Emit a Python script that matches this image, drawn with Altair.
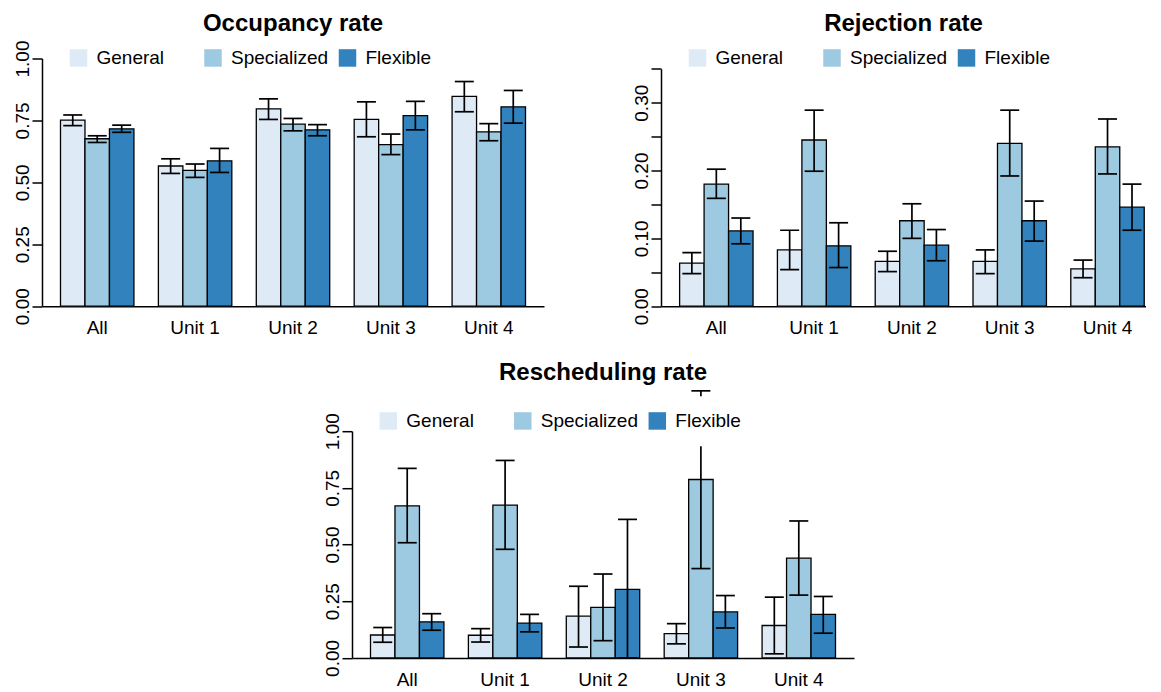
import altair as alt
import pandas as pd

units = ["All", "Unit 1", "Unit 2", "Unit 3", "Unit 4"]
types = ["General", "Specialized", "Flexible"]
colors = ["#deebf7", "#9ecae1", "#3182bd"]

# Occupancy rate
occ_general = [0.751, 0.566, 0.797, 0.754, 0.847]
occ_general_lo = [0.729, 0.536, 0.754, 0.684, 0.785]
occ_general_hi = [0.772, 0.595, 0.837, 0.825, 0.907]
occ_special = [0.676, 0.548, 0.735, 0.652, 0.704]
occ_special_lo = [0.661, 0.520, 0.708, 0.612, 0.668]
occ_special_hi = [0.688, 0.574, 0.758, 0.695, 0.737]
occ_flex = [0.716, 0.587, 0.712, 0.769, 0.805]
occ_flex_lo = [0.702, 0.540, 0.688, 0.712, 0.739]
occ_flex_hi = [0.731, 0.637, 0.733, 0.827, 0.871]

# Rejection rate
rej_general = [0.0635, 0.083, 0.066, 0.066, 0.055]
rej_general_lo = [0.048, 0.054, 0.051, 0.048, 0.042]
rej_general_hi = [0.079, 0.112, 0.081, 0.083, 0.068]
rej_special = [0.180, 0.245, 0.126, 0.240, 0.235]
rej_special_lo = [0.159, 0.199, 0.100, 0.192, 0.195]
rej_special_hi = [0.202, 0.289, 0.151, 0.289, 0.276]
rej_flex = [0.111, 0.089, 0.090, 0.126, 0.146]
rej_flex_lo = [0.092, 0.057, 0.067, 0.096, 0.112]
rej_flex_hi = [0.130, 0.123, 0.113, 0.155, 0.180]

# Rescheduling rate
res_general = [0.101, 0.100, 0.184, 0.107, 0.143]
res_general_lo = [0.069, 0.070, 0.048, 0.062, 0.018]
res_general_hi = [0.134, 0.129, 0.316, 0.151, 0.268]
res_special = [0.671, 0.674, 0.223, 0.787, 0.440]
res_special_lo = [0.508, 0.479, 0.076, 0.394, 0.277]
res_special_hi = [0.836, 0.871, 0.370, 1.178, 0.604]
res_flex = [0.159, 0.153, 0.302, 0.203, 0.192]
res_flex_lo = [0.122, 0.115, 0.0, 0.132, 0.109]
res_flex_hi = [0.195, 0.192, 0.611, 0.275, 0.271]

FONT = "Liberation Sans"


def make_frame(series):
    rows = []
    for t, (m, lo, hi) in zip(types, series):
        for u, a, b, c in zip(units, m, lo, hi):
            rows.append({"unit": u, "type": t, "mean": a, "lo": b, "hi": c})
    return pd.DataFrame(rows)


def panel(df, title, domain, values, width, height, xscale, yrange, title_offset,
          legend_x, legend_y, legend_pad, legend_fill, label_expr=None):
    x = alt.X("unit:N", sort=units, scale=xscale,
              axis=alt.Axis(title=None, ticks=False, tickSize=0, labelAngle=0,
                            labelFontSize=19, labelPadding=27.5,
                            labelBaseline="alphabetic", labelColor="black",
                            domainColor="black", domainWidth=1.5))
    xo = alt.XOffset("type:N", sort=types,
                     scale=alt.Scale(paddingInner=0, paddingOuter=0))
    axis_kw = dict(title=None, values=values, format=".2f", labelAngle=270,
                   labelAlign="center", labelBaseline="alphabetic",
                   tickSize=10, labelPadding=3.5, grid=False,
                   labelFontSize=19, labelColor="black", domainColor="black",
                   tickColor="black", domainWidth=1.5, tickWidth=1.5,
                   labelOverlap=False, labelFlush=False)
    if label_expr:
        axis_kw["labelExpr"] = label_expr
    yaxis = alt.Axis(**axis_kw)
    scale_kw = dict(domain=domain, nice=False, zero=True)
    if yrange:
        scale_kw["range"] = yrange
    yscale = alt.Scale(**scale_kw)

    legend_kw = dict(orient="none", legendX=legend_x, legendY=legend_y,
                     direction="horizontal", columns=3, title=None,
                     symbolType="square", symbolSize=306, symbolStrokeWidth=0,
                     symbolOpacity=1, labelFontSize=19, labelOffset=8.5,
                     columnPadding=9.5, gridAlign="all", padding=legend_pad,
                     labelColor="black", labelFont=FONT)
    if legend_fill:
        legend_kw["fillColor"] = legend_fill

    base = alt.Chart(df)
    bars = base.mark_bar(stroke="black", strokeWidth=1.3).encode(
        x=x, xOffset=xo,
        y=alt.Y("mean:Q", scale=yscale, axis=yaxis),
        color=alt.Color("type:N", sort=types,
                        scale=alt.Scale(domain=types, range=colors),
                        legend=alt.Legend(**legend_kw)),
    )
    rules = base.mark_rule(color="black", strokeWidth=1.7).encode(
        x=x, xOffset=xo,
        y=alt.Y("lo:Q", scale=yscale, axis=yaxis), y2="hi:Q")
    cap_hi = base.mark_tick(color="black", thickness=1.7, size=19, opacity=1).encode(
        x=x, xOffset=xo, y=alt.Y("hi:Q", scale=yscale, axis=yaxis))
    cap_lo = base.mark_tick(color="black", thickness=1.7, size=19, opacity=1).encode(
        x=x, xOffset=xo, y=alt.Y("lo:Q", scale=yscale, axis=yaxis))
    return alt.layer(bars, rules, cap_hi, cap_lo).properties(
        width=width, height=height,
        title=alt.TitleParams(title, fontSize=24, fontWeight="bold", font=FONT,
                              color="black", anchor="middle", frame="group",
                              offset=title_offset),
    )


occ_df = make_frame([
    (occ_general, occ_general_lo, occ_general_hi),
    (occ_special, occ_special_lo, occ_special_hi),
    (occ_flex, occ_flex_lo, occ_flex_hi),
])
rej_df = make_frame([
    (rej_general, rej_general_lo, rej_general_hi),
    (rej_special, rej_special_lo, rej_special_hi),
    (rej_flex, rej_flex_lo, rej_flex_hi),
])
res_df = make_frame([
    (res_general, res_general_lo, res_general_hi),
    (res_special, res_special_lo, res_special_hi),
    (res_flex, res_flex_lo, res_flex_hi),
])

full_x = alt.Scale(paddingInner=0.25, paddingOuter=0.189)
cut_x = alt.Scale(paddingInner=0.25, paddingOuter=0.1046, align=0.91)

p1 = panel(occ_df, "Occupancy rate", [0, 1], [0, 0.25, 0.5, 0.75, 1.0],
           502, 247.7, full_x, None, 3.0, 18, -19.3, 9, None)
p2 = panel(rej_df, "Rejection rate", [0, 0.35],
           [0, 0.05, 0.10, 0.15, 0.20, 0.25, 0.30, 0.35],
           485, 247.7, cut_x, [247.7, 10.3], 3.0, 18, -19.3, 9, None,
           label_expr="(round(datum.value*100) % 10 == 0) ? format(datum.value, '.2f') : ''")
p3 = panel(res_df, "Rescheduling rate", [0, 1], [0, 0.25, 0.5, 0.75, 1.0],
           502, 226.7, full_x, None, 4.6, 11.8, -35, 15, "white")

spacer = alt.Chart(pd.DataFrame({"s": [0]})).mark_rule(opacity=0, strokeWidth=0).encode(
    x=alt.value(0), x2=alt.value(280.5), y=alt.value(0)
).properties(width=280.5, height=1)

top = alt.hconcat(p1, p2, spacing=88).resolve_scale(
    color="independent").resolve_legend(color="independent")
bottom = alt.hconcat(spacer, p3, spacing=0).resolve_scale(
    color="independent").resolve_legend(color="independent")

chart = alt.vconcat(top, bottom, spacing=22.7).resolve_scale(
    color="independent").resolve_legend(color="independent").properties(
    padding={"left": 5, "top": 3.5, "right": 0, "bottom": 0}
).configure(font=FONT).configure_view(stroke=None)

chart.save("out.html", embed_options={"renderer": "svg", "actions": False})
